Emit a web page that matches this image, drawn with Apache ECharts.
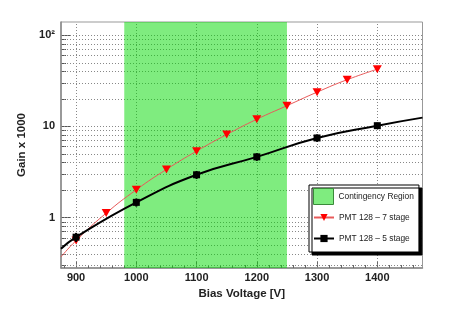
<!DOCTYPE html>
<html>
<head>
<meta charset="utf-8">
<script src="https://cdn.jsdelivr.net/npm/echarts@6/dist/echarts.min.js"></script>
<style>
html,body{margin:0;padding:0;background:#fff;}
#chart{width:452px;height:313px;}
</style>
</head>
<body>
<div id="chart"></div>
<script>
// ---- data ----
const voltage7 = [875, 900, 950, 1000, 1050, 1100, 1150, 1200, 1250, 1300, 1350, 1400];
const gain7 = [0.37, 0.56, 1.12, 2.02, 3.38, 5.36, 8.15, 12.0, 16.9, 23.8, 32.6, 42.5];
const measured7 = [false, true, true, true, true, true, true, true, true, true, true, true];

const voltage5 = [875, 900, 1000, 1100, 1200, 1300, 1400, 1475];
const gain5 = [0.455, 0.61, 1.47, 2.95, 4.64, 7.48, 10.2, 12.5];
const measured5 = [false, true, true, true, true, true, true, false];
const gain5Err = [0, 0.07, 0.15, 0.3, 0.45, 0.7, 0.8, 0];

const contingency = [980, 1250];
const xMajorTicks = [900, 1000, 1100, 1200, 1300, 1400];
const xMinorTicks = [880, 920, 940, 960, 980, 1020, 1040, 1060, 1080, 1120, 1140, 1160, 1180,
  1220, 1240, 1260, 1280, 1320, 1340, 1360, 1380, 1420, 1440, 1460];
const yMajorTicks = [1, 10, 100];
const yMinorTicks = [0.3, 0.4, 0.5, 0.6, 0.7, 0.8, 0.9, 2, 3, 4, 5, 6, 7, 8, 9, 20, 30, 40, 50, 60, 70, 80, 90];
const yLabels = {1: '1', 10: '10', 100: '10²'};
const xRange = [875, 1475];
const yRange = [0.28, 140];

const FONT = "'Liberation Sans', Arial, sans-serif";
const green = 'rgba(0,217,0,0.5)';

const chart = echarts.init(document.getElementById('chart'), null, {renderer: 'canvas'});

const gridLines = [];
xMajorTicks.forEach(v => gridLines.push({xAxis: v}));
yMajorTicks.concat(yMinorTicks).forEach(v => gridLines.push({yAxis: v}));

const data7 = voltage7.map((v, i) => measured7[i] ? [v, gain7[i]] : {value: [v, gain7[i]], symbol: 'none'});
const data5 = voltage5.map((v, i) => measured5[i] ? [v, gain5[i]] : {value: [v, gain5[i]], symbol: 'none'});
const err5 = [];
voltage5.forEach((v, i) => { if (measured5[i]) err5.push([v, gain5[i] - gain5Err[i], gain5[i] + gain5Err[i]]); });

const legendText = {fontFamily: FONT, fontSize: 8.4, color: '#222'};

const option = {
  animation: false,
  backgroundColor: '#fff',
  textStyle: {fontFamily: FONT},
  grid: {left: 61, top: 22, right: 29.5, bottom: 45, show: true, borderColor: '#999', borderWidth: 1, backgroundColor: 'transparent'},
  legend: [{
    orient: 'vertical',
    left: 309, top: 185,
    padding: [3, 5, 47, 4],
    itemWidth: 20, itemHeight: 16,
    backgroundColor: '#fff',
    borderColor: '#000', borderWidth: 1, borderRadius: 0,
    shadowColor: '#000', shadowOffsetX: 3, shadowOffsetY: 3, shadowBlur: 0,
    textStyle: legendText,
    data: [
      {name: 'Contingency Region', icon: 'rect', itemStyle: {color: green, borderColor: '#3a8a3a', borderWidth: 1}}
    ]
  }, {
    orient: 'vertical',
    left: 313, top: 213.5,
    padding: 0,
    itemWidth: 20, itemHeight: 9, itemGap: 13,
    textStyle: legendText,
    data: [
      {name: 'PMT 128 – 7 stage'},
      {name: 'PMT 128 – 5 stage'}
    ]
  }],
  xAxis: [{
    type: 'value', min: xRange[0], max: xRange[1],
    name: 'Bias Voltage [V]', nameLocation: 'middle', nameGap: 18,
    nameTextStyle: {fontFamily: FONT, fontWeight: 'bold', fontSize: 11.5, color: '#222'},
    axisLine: {show: true, lineStyle: {color: '#888', width: 1.5}},
    axisTick: {show: true, inside: true, length: 6, customValues: xMajorTicks, lineStyle: {color: '#666'}},
    axisLabel: {show: true, customValues: xMajorTicks, margin: 4, fontFamily: FONT, fontWeight: 'bold', fontSize: 11, color: '#222',
      formatter: v => String(v)},
    splitLine: {show: false}
  }, {
    type: 'value', min: xRange[0], max: xRange[1], position: 'bottom',
    axisLine: {show: false},
    axisTick: {show: true, inside: true, length: 3, customValues: xMinorTicks, lineStyle: {color: '#666'}},
    axisLabel: {show: false},
    splitLine: {show: false}
  }],
  yAxis: [{
    type: 'log', logBase: 10, min: yRange[0], max: yRange[1],
    name: 'Gain x 1000', nameLocation: 'middle', nameGap: 22, nameRotate: 90,
    nameTextStyle: {fontFamily: FONT, fontWeight: 'bold', fontSize: 11.5, color: '#222'},
    axisLine: {show: true, lineStyle: {color: '#888', width: 1.5}},
    axisTick: {show: true, inside: true, length: 10, customValues: yMajorTicks, lineStyle: {color: '#555'}},
    axisLabel: {show: true, customValues: yMajorTicks, margin: 6, fontFamily: FONT, fontWeight: 'bold', fontSize: 11, color: '#222',
      formatter: v => yLabels[Math.round(v)] || ''},
    splitLine: {show: false},
    minorSplitLine: {show: false}
  }, {
    type: 'log', logBase: 10, min: yRange[0], max: yRange[1], position: 'left',
    axisLine: {show: false},
    axisTick: {show: true, inside: true, length: 5, customValues: yMinorTicks, lineStyle: {color: '#555'}},
    axisLabel: {show: false},
    splitLine: {show: false}
  }],
  series: [
    {
      name: 'grid', type: 'line', data: [], xAxisIndex: 0, yAxisIndex: 0, silent: true,
      markLine: {
        z: 1, silent: true, symbol: ['none', 'none'], label: {show: false},
        lineStyle: {type: [1, 2], color: '#888', width: 1},
        emphasis: {disabled: true},
        data: gridLines
      }
    },
    {
      name: 'Contingency Region', type: 'line', data: [], xAxisIndex: 0, yAxisIndex: 0,
      itemStyle: {color: green},
      markArea: {
        z: 2, silent: true,
        itemStyle: {color: green},
        data: [[{xAxis: contingency[0]}, {xAxis: contingency[1]}]]
      }
    },
    {
      name: 'PMT 128 – 7 stage', type: 'line', z: 5, smooth: 0.5,
      data: data7,
      symbol: 'triangle', symbolRotate: 180, symbolSize: [9, 8],
      itemStyle: {color: '#ff0000'},
      lineStyle: {color: '#e85a5a', width: 1}
    },
    {
      name: 'PMT 128 – 5 stage', type: 'line', z: 6, smooth: 0.5,
      data: data5,
      symbol: 'rect', symbolSize: 7,
      itemStyle: {color: '#000'},
      lineStyle: {color: '#000', width: 2}
    },
    {
      name: 'err5', type: 'custom', z: 6, silent: true,
      data: err5,
      renderItem: function (params, api) {
        const p1 = api.coord([api.value(0), api.value(1)]);
        const p2 = api.coord([api.value(0), api.value(2)]);
        return {type: 'line', shape: {x1: p1[0], y1: p1[1], x2: p2[0], y2: p2[1]}, style: {stroke: '#000', lineWidth: 2}};
      }
    }
  ]
};
chart.setOption(option);
</script>
</body>
</html>
